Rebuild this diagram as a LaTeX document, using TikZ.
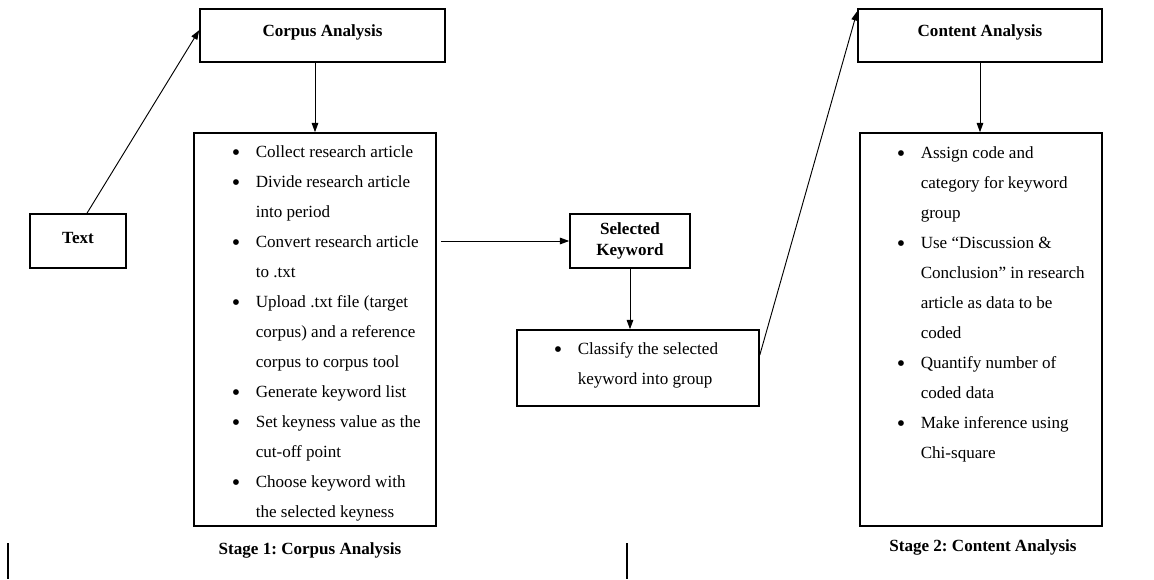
\documentclass[tikz,border=0pt]{standalone}
\usepackage{fontspec}
\setmainfont{Liberation Serif}
\usetikzlibrary{arrows.meta,calc}
\frenchspacing
\newcommand\bul{\makebox[18pt][l]{\raisebox{-2.4pt}{\fontsize{18}{18}\selectfont\textbullet}}}
\newcommand\ind{\hspace*{18pt}}
\newcommand\up[1]{\raisebox{2.5pt}[\height][\depth]{#1}}
\begin{document}
\begin{tikzpicture}[x=0.75pt,y=-0.75pt,
  box/.style={draw, line width=1.2pt, inner sep=0pt, font=\bfseries\fontsize{12.8}{15.75}\selectfont, align=center},
  arr/.style={line width=0.7pt, -{Triangle[length=7pt,width=5pt]}},
  listtext/.style={anchor=base west, inner sep=0pt},
  stage/.style={font=\bfseries\fontsize{12.8}{14}\selectfont},
  bar/.style={line width=1.5pt}]
\useasboundingbox (0,0) rectangle (1154,579);

\node[box, minimum width=183.75pt, minimum height=39.75pt] (corpus) at (322.5,35.5) {\up{Corpus Analysis}};
\node[box, minimum width=72pt, minimum height=40.5pt] (text) at (78,241) {\up{Text}};
\node[box, minimum width=181.5pt, minimum height=294.75pt] (list1) at (315,329.5) {};
\node[box, minimum width=90pt, minimum height=40.5pt] (sel) at (630,241) {Selected\\Keyword};
\node[box, minimum width=181.5pt, minimum height=57pt] (cls) at (638,368) {};
\node[box, minimum width=183pt, minimum height=39.75pt] (content) at (980,35.5) {\up{Content Analysis}};
\node[box, minimum width=181.5pt, minimum height=294.75pt] (list2) at (981,329.5) {};

\node[listtext] (t1) at (231.5,157) {\parbox[t]{190pt}{\fontsize{12.8}{22.5}\selectfont
\bul Collect research article\\
\bul Divide research article\\
\ind into period\\
\bul Convert research article\\
\ind to .txt\\
\bul Upload .txt file (target\\
\ind corpus) and a reference\\
\ind corpus to corpus tool\\
\bul Generate keyword list\\
\bul Set keyness value as the\\
\ind cut-off point\\
\bul Choose keyword with\\
\ind the selected keyness}};

\node[listtext] (t2) at (553.5,354) {\parbox[t]{190pt}{\fontsize{12.8}{22.5}\selectfont
\bul Classify the selected\\
\ind keyword into group}};

\node[listtext] (t3) at (896.5,158) {\parbox[t]{190pt}{\fontsize{12.8}{22.5}\selectfont
\bul Assign code and\\
\ind category for keyword\\
\ind group\\
\bul Use “Discussion \&\\
\ind Conclusion” in research\\
\ind article as data to be\\
\ind coded\\
\bul Quantify number of\\
\ind coded data\\
\bul Make inference using\\
\ind Chi-square}};

\node[stage] (s1) at (310,550) {Stage 1: Corpus Analysis};
\node[stage] (s2) at (983,547) {Stage 2: Content Analysis};

\draw[arr] ([xshift=6.75pt]text.north) -- ([yshift=4pt]corpus.west);
\draw[arr] (corpus.south -| list1.north) -- (list1.north);
\draw[arr] ($(list1.east |- sel.west)+(3pt,0)$) -- (sel.west);
\draw[arr] (sel.south) -- (sel.south |- cls.north);
\draw[arr] ([yshift=9.75pt]cls.east) -- ([yshift=-2.25pt]content.north west);
\draw[arr] (content.south) -- (content.south |- list2.north);

\draw[bar] (8,543) -- (8,579);
\draw[bar] (627,543) -- (627,579);
\end{tikzpicture}
\end{document}
